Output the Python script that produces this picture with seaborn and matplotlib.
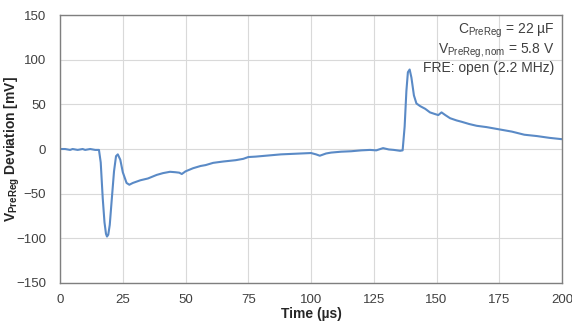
import matplotlib
matplotlib.use("Agg")
import matplotlib.pyplot as plt
import seaborn as sns
import pandas as pd

# values
time_us = [0, 2, 4, 5, 7, 9, 10, 12, 14, 15.5, 16.2, 17, 17.7, 18.3, 18.7, 19.2, 19.8, 20.5,
           21.5, 22.3, 23, 24, 25, 26.5, 27.6, 29, 32, 35, 38.5, 41, 43.8, 46, 47.5, 48.5, 50,
           53, 56, 58, 61, 65, 70, 73, 75, 78, 80, 84, 88, 92, 96, 100, 102, 103.5, 106, 108,
           112, 116, 120, 123.5, 126, 128.7, 131, 133, 135.5, 136.5, 137.3, 138, 138.6, 139.3,
           140, 141, 142, 143.5, 145.5, 147.4, 149, 150.7, 152, 153.5, 155.4, 158, 160, 163,
           166, 170, 175, 180, 185, 190, 195, 200]
dev_mv = [0, 0, -1, 0, -1, 0, -1, 0, -1, -1, -15, -55, -82, -95, -98, -96, -85, -60, -25, -8,
          -6, -12, -26, -38, -40, -38, -35, -33, -29, -27, -25.5, -26, -26.5, -28, -25, -21.5,
          -19, -18, -15.5, -14, -12.5, -11, -9, -8.5, -8, -7, -6, -5.5, -5, -4.5, -6, -7.5, -5,
          -4, -3, -2.5, -1.5, -1, -1.5, 1, -0.5, -1, -2, -1.5, 25, 65, 86, 89, 80, 60, 51, 48,
          45, 41, 39.5, 38, 41, 38, 34.5, 32, 30.5, 28, 26, 24.5, 22, 19.5, 16, 14.5, 12.5, 11]

df = pd.DataFrame({"t": time_us, "v": dev_mv})

sns.set_theme(style="whitegrid")
plt.rcParams["font.family"] = ["Liberation Sans", "DejaVu Sans"]
plt.rcParams["mathtext.fontset"] = "custom"
plt.rcParams["mathtext.rm"] = "Liberation Sans"
plt.rcParams["mathtext.bf"] = "Liberation Sans:bold"

fig = plt.figure(figsize=(5.72, 3.27), dpi=100)
ax = fig.add_axes([0.105, 0.1346, 0.8775, 0.8194])

sns.lineplot(data=df, x="t", y="v", ax=ax, color="#5a8ac6", linewidth=1.5)

ax.set_xlim(0, 200)
ax.set_ylim(-150, 150)
ax.set_xticks(range(0, 201, 25))
ax.set_yticks(range(-150, 151, 50))
ax.grid(True, color="#d9d9d9", linewidth=0.8)
for s in ax.spines.values():
    s.set_color("#7f7f7f")
    s.set_linewidth(1.0)
ax.tick_params(axis="both", length=0, labelsize=9.5, labelcolor="#404040")
ax.tick_params(axis="y", pad=10)
ax.tick_params(axis="x", pad=8)

ax.set_xlabel("Time (µs)", fontsize=10, fontweight="bold", color="#262626", labelpad=1)
ax.set_ylabel(r"V$_{\mathbf{PreReg}}$ Deviation [mV]", fontsize=10, fontweight="bold",
              color="#262626")
ax.yaxis.set_label_coords(-0.076, 0.5)

ax.text(0.985, 0.975,
        "C$_{\\mathrm{PreReg}}$ = 22 µF\n"
        "V$_{\\mathrm{PreReg,nom}}$ = 5.8 V\n"
        "FRE: open (2.2 MHz)",
        transform=ax.transAxes, ha="right", va="top", fontsize=10, color="#404040",
        linespacing=1.1)

fig.savefig("out.png", dpi=100)
